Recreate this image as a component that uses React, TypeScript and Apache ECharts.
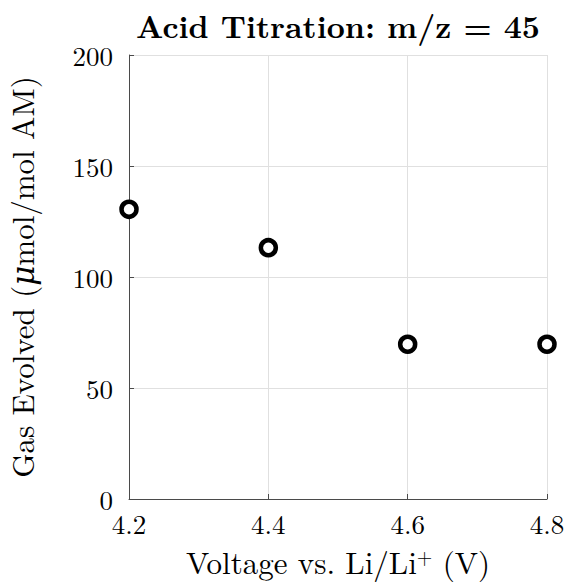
import React, { useEffect, useRef } from "react";
import * as echarts from "echarts";

const voltages = [4.2, 4.4, 4.6, 4.8];
const gasEvolved = [130.5, 113.2, 69.7, 69.7];
const xTicks = [4.2, 4.4, 4.6, 4.8];
const yTicks = [0, 50, 100, 150, 200];

const FONT = "'Latin Modern Roman', 'CMU Serif', 'DejaVu Serif', serif";

export default function App() {
  const ref = useRef<HTMLDivElement>(null);
  useEffect(() => {
    if (!ref.current) return;
    const chart = echarts.init(ref.current, undefined, { renderer: "svg" });
    chart.setOption({
      animation: false,
      backgroundColor: "#ffffff",
      title: {
        text: "Acid Titration: m/z = 45",
        left: 333,
        textAlign: "center",
        top: 3,
        textStyle: { fontFamily: FONT, fontSize: 31.5, fontWeight: "bold", color: "#000" },
      },
      grid: {
        left: 129,
        right: 21,
        top: 55,
        bottom: 84,
        containLabel: false,
        outerBoundsMode: "none",
      },
      xAxis: {
        type: "value",
        min: xTicks[0],
        max: xTicks[xTicks.length - 1],
        interval: 0.2,
        name: "{n|Voltage vs. Li/Li}{s|+}{n| (V)}",
        nameLocation: "middle",
        nameGap: 46,
        nameTextStyle: {
          rich: {
            n: { fontFamily: FONT, fontSize: 31, color: "#000" },
            s: { fontFamily: FONT, fontSize: 20, color: "#000", verticalAlign: "top", padding: [0, 0, 12, 0] },
          },
        },
        axisLine: { show: true, lineStyle: { color: "#4a4a4a", width: 1 } },
        axisTick: { show: true, inside: true, length: 5, lineStyle: { color: "#4a4a4a" } },
        axisLabel: {
          fontFamily: FONT,
          fontSize: 27,
          color: "#000",
          margin: 10,
          formatter: (v: number) => v.toFixed(1),
        },
        splitLine: { show: true, lineStyle: { color: "#e0e0e0", width: 1 } },
      },
      yAxis: {
        type: "value",
        min: yTicks[0],
        max: yTicks[yTicks.length - 1],
        interval: 50,
        name: "{n|Gas Evolved (}{i|μ}{n|mol/mol AM)}",
        nameLocation: "middle",
        nameGap: 93,
        nameTextStyle: {
          rich: {
            n: { fontFamily: FONT, fontSize: 31, color: "#000" },
            i: { fontFamily: FONT, fontSize: 31, color: "#000", fontStyle: "italic" },
          },
        },
        axisLine: { show: true, lineStyle: { color: "#4a4a4a", width: 1 } },
        axisTick: { show: true, inside: true, length: 5, lineStyle: { color: "#4a4a4a" } },
        axisLabel: { fontFamily: FONT, fontSize: 27, color: "#000", margin: 16 },
        splitLine: { show: true, lineStyle: { color: "#e0e0e0", width: 1 } },
      },
      series: [
        {
          type: "scatter",
          data: voltages.map((v, i) => [v, gasEvolved[i]]),
          symbol: "circle",
          symbolSize: 15,
          itemStyle: { color: "#ffffff", borderColor: "#000000", borderWidth: 4.5, opacity: 1 },
          clip: false,
          z: 5,
        },
      ],
    });
    return () => chart.dispose();
  }, []);
  return <div ref={ref} style={{ width: 568, height: 583, position: "absolute", left: 0, top: 0 }} />;
}
